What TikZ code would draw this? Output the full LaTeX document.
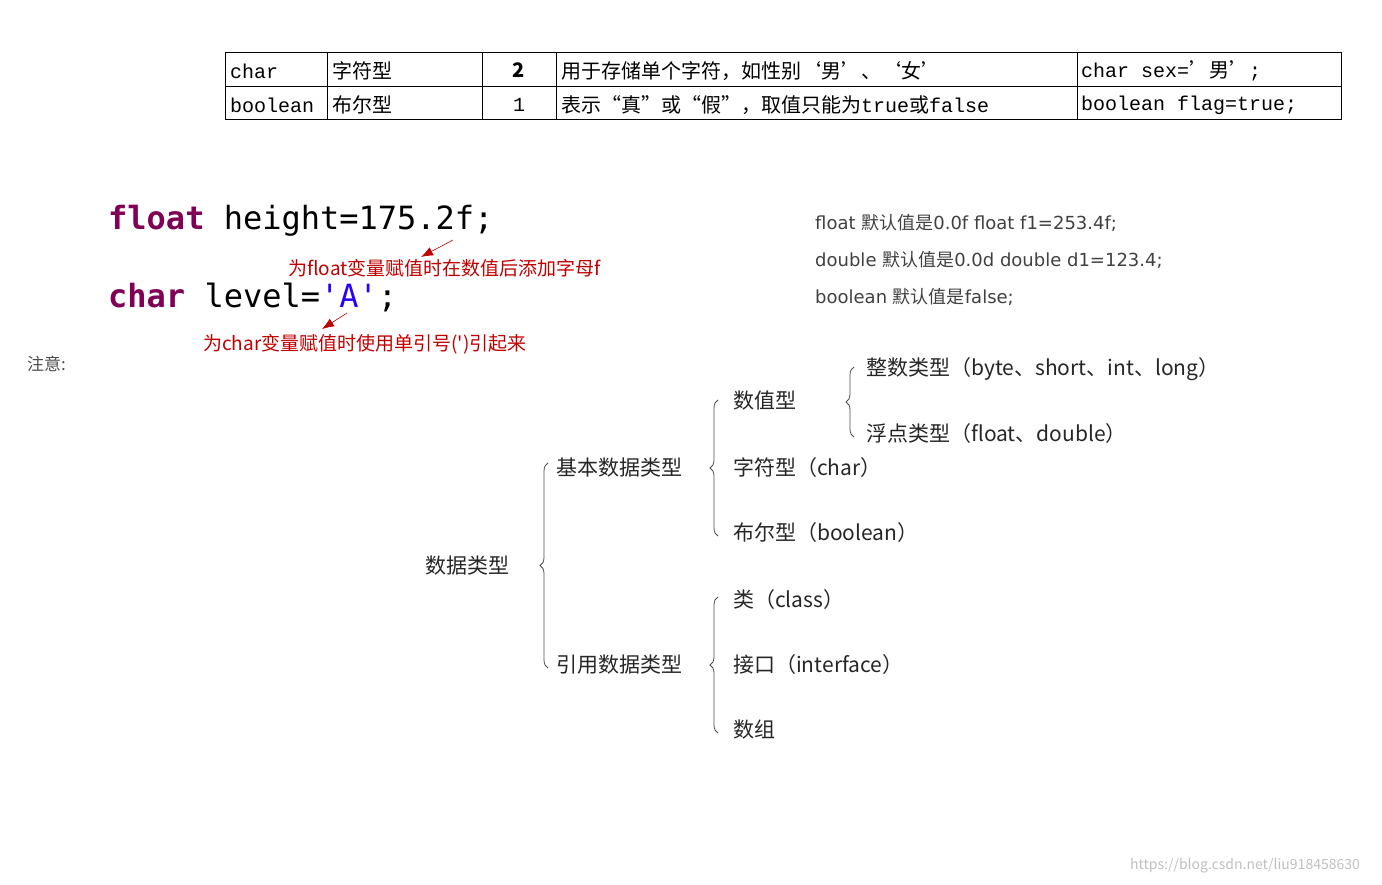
\documentclass[tikz,border=0pt]{standalone}
\usepackage{fontspec}
\setmainfont{Noto Sans CJK SC}
\newfontfamily\cjk{Noto Sans CJK SC}
\newfontfamily\mono{Liberation Mono}
\newfontfamily\code{DejaVu Sans Mono}
\newfontfamily\dv{DejaVu Sans}
\usetikzlibrary{decorations.pathreplacing,arrows.meta}
\definecolor{kw}{HTML}{7F0055}
\definecolor{str}{HTML}{2A00FF}
\definecolor{note}{HTML}{C00000}
\definecolor{gtext}{HTML}{404040}
\tikzset{
 cell/.style={anchor=west,inner sep=0pt,font=\fontsize{20}{22}\selectfont},
 codet/.style={anchor=west,inner sep=0pt,font=\code\fontsize{32}{34}\selectfont},
 notet/.style={anchor=west,inner sep=0pt,text=note,font=\cjk\fontsize{19}{21}\selectfont},
 rt/.style={anchor=west,inner sep=0pt,text=gtext,font=\dv\fontsize{18}{22}\selectfont},
 tr/.style={anchor=west,inner sep=0pt,text=black!85,font=\fontsize{21}{24}\selectfont},
 brc/.style={draw=black!70,line width=0.8pt,decoration={brace,mirror,amplitude=8pt},decorate},
 narrow/.style={note,line width=0.6pt,-{Latex[length=12pt,width=9pt]}}
}
\begin{document}
\begin{tikzpicture}[x=1pt,y=-1pt]
\useasboundingbox (0,0) rectangle (1382,885);
% table
\draw[line width=1pt] (225,53) rectangle (1341,120);
\draw[line width=1pt] (225,87) -- (1341,87);
\foreach \x in {327,482,556,1077} \draw[line width=1pt] (\x,53) -- (\x,120);
\node[cell] (c11) at (230,71) {\mono char};
\node[cell] (c12) at (332,71) {\cjk 字符型};
\node[cell,anchor=center] (c13) at (519,70) {\bfseries 2};
\node[cell] (c14) at (561,71) {\cjk 用于存储单个字符，如性别‘男’、‘女’};
\node[cell] (c15) at (1081,71) {\mono char sex=\cjk’男’\mono;};
\node[cell] (c21) at (230,105) {\mono boolean};
\node[cell] (c22) at (332,105) {\cjk 布尔型};
\node[cell,anchor=center] (c23) at (519,105) {\mono 1};
\node[cell] (c24) at (561,105) {\cjk 表示“真”或“假”，取值只能为\mono true\cjk 或\mono false};
\node[cell] (c25) at (1081,105) {\mono boolean flag=true;};
% code
\node[codet] (f) at (108,221) {\textcolor{kw}{\bfseries float} height=175.2f;};
\node[codet] (ch) at (108,298) {\textcolor{kw}{\bfseries char} level=\textcolor{str}{'A'};};
\node[notet] (n1) at (288,268) {为float变量赋值时在数值后添加字母f};
\node[notet] (n2) at (203,344) {为char变量赋值时使用单引号(')引起来};
\coordinate (a1s) at (453,240); \coordinate (a1e) at (421,257);
\coordinate (a2s) at (347,313); \coordinate (a2e) at (322,329);
\draw[narrow] (a1s) -- (a1e);
\draw[narrow] (a2s) -- (a2e);
\node[anchor=west,inner sep=0pt,text=black!70,font=\fontsize{17}{20}\selectfont] (zy) at (27,364) {注意:};
% right text
\node[rt] (r1) at (815,223) {float {\cjk 默认值是}0.0f float f1=253.4f;};
\node[rt] (r2) at (815,260) {double {\cjk 默认值是}0.0d double d1=123.4;};
\node[rt] (r3) at (815,297) {boolean {\cjk 默认值是}false;};
% tree
\node[tr] (root) at (425,566) {数据类型};
\node[tr] (jb) at (556,468) {基本数据类型};
\node[tr] (yy) at (556,665) {引用数据类型};
\node[tr] (sz) at (733,401) {数值型};
\node[tr] (zf) at (733,468) {字符型（char）};
\node[tr] (be) at (733,533) {布尔型（boolean）};
\node[tr] (cl) at (733,600) {类（class）};
\node[tr] (jk) at (733,665) {接口（interface）};
\node[tr] (arr) at (733,730) {数组};
\node[tr] (zs) at (866,369) {整数类型（byte、short、int、long）};
\node[tr] (fd) at (866,434) {浮点类型（float、double）};
\draw[brc] (548,463) -- (548,668);
\draw[brc] (718,400) -- (718,536);
\draw[brc] (718,597) -- (718,733);
\draw[brc] (854,367) -- (854,437);
% watermark
\node[anchor=west,inner sep=0pt,text=black!25,font=\fontsize{14}{16}\selectfont] (wm) at (1130,866) {https://blog.csdn.net/liu918458630};
\end{tikzpicture}
\end{document}
